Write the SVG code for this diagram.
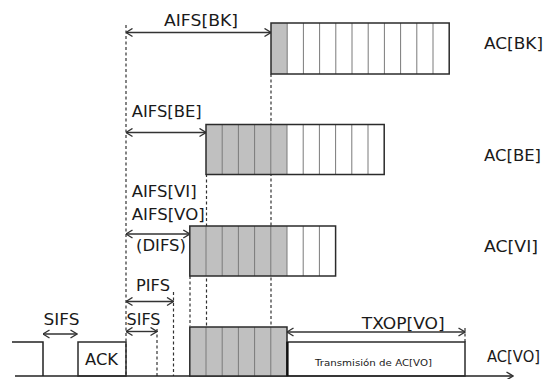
<svg xmlns="http://www.w3.org/2000/svg" width="544" height="379" viewBox="0 0 544 379">
  <defs>
    <marker id="chev" viewBox="0 0 8 10" refX="7.5" refY="5" markerWidth="8" markerHeight="10" markerUnits="userSpaceOnUse" orient="auto-start-reverse">
      <path d="M1,1 L7.5,5 L1,9" fill="none" stroke="#333" stroke-width="1.4"/>
    </marker>
    <style>
      text { font-family: "DejaVu Sans", "Liberation Sans", sans-serif; font-size: 15.5px; fill: #1a1a1a; }
      .small { font-size: 8.5px; }
      .frame { fill: none; stroke: #2b2b2b; stroke-width: 1.5; }
      .slot-busy { fill: #c0c0c0; stroke: none; }
      .slot-free { fill: #ffffff; stroke: none; }
      .sep { stroke: #7a7a7a; stroke-width: 1; fill: none; }
      .dash { stroke: #333; stroke-width: 1.2; stroke-dasharray: 3 2.5; fill: none; }
      .span { stroke: #333; stroke-width: 1.4; fill: none; marker-start: url(#chev); marker-end: url(#chev); }
      .line { stroke: #222; stroke-width: 1.5; fill: none; }
    </style>
  </defs>

  <rect width="544" height="379" fill="#ffffff"/>

  <!-- guide lines behind the slot boxes -->
  <g id="connectors">
    <path class="dash" d="M126,25 V376"/>
    <path class="dash" d="M271,74 V326"/>
    <path class="dash" d="M206.5,174 V326"/>
    <path class="dash" d="M190,276 V326"/>
    <path class="dash" d="M157,329 V376"/>
    <path class="dash" d="M173.5,292 V376"/>
    <path class="dash" d="M465,328 V342"/>

    <path class="span" d="M126,32.5 H271"/>
    <path class="span" d="M126,132.5 H206"/>
    <path class="span" d="M126,234 H189.8"/>
    <path class="span" d="M126,301.5 H173.5"/>
    <path class="span" d="M126,331.5 H157"/>
    <path class="span" d="M43,334 H77"/>
    <path class="span" d="M287,332 H465"/>

    <!-- time axis -->
    <path class="line" d="M15,376 H513" marker-end="url(#chev)"/>
  </g>

  <!-- AC[BK] backoff window -->
  <g id="ac-bk">
    <rect class="slot-free" x="271" y="23" width="178.2" height="51"/>
    <rect class="slot-busy" x="271" y="23" width="16.2" height="51"/>
    <path class="sep" d="M287.2,23V74M303.4,23V74M319.6,23V74M335.8,23V74M352,23V74M368.2,23V74M384.4,23V74M400.6,23V74M416.8,23V74M433,23V74"/>
    <rect class="frame" x="271" y="23" width="178.2" height="51"/>
    <text x="484" y="49" textLength="59" lengthAdjust="spacingAndGlyphs">AC[BK]</text>
  </g>

  <!-- AC[BE] backoff window -->
  <g id="ac-be">
    <rect class="slot-free" x="206" y="124.5" width="178.2" height="50"/>
    <rect class="slot-busy" x="206" y="124.5" width="81" height="50"/>
    <path class="sep" d="M222.2,124.5V174.5M238.4,124.5V174.5M254.6,124.5V174.5M270.8,124.5V174.5M287,124.5V174.5M303.2,124.5V174.5M319.4,124.5V174.5M335.6,124.5V174.5M351.8,124.5V174.5M368,124.5V174.5"/>
    <rect class="frame" x="206" y="124.5" width="178.2" height="50"/>
    <text x="484" y="161" textLength="57" lengthAdjust="spacingAndGlyphs">AC[BE]</text>
  </g>

  <!-- AC[VI] backoff window -->
  <g id="ac-vi">
    <rect class="slot-free" x="189.8" y="226" width="145.8" height="50"/>
    <rect class="slot-busy" x="189.8" y="226" width="97.2" height="50"/>
    <path class="sep" d="M206,226V276M222.2,226V276M238.4,226V276M254.6,226V276M270.8,226V276M287,226V276M303.2,226V276M319.4,226V276"/>
    <rect class="frame" x="189.8" y="226" width="145.8" height="50"/>
    <text x="484" y="252" textLength="54" lengthAdjust="spacingAndGlyphs">AC[VI]</text>
  </g>

  <!-- AC[VO] backoff and transmission -->
  <g id="ac-vo">
    <rect class="slot-busy" x="189.8" y="327" width="97.2" height="49"/>
    <path class="sep" d="M206,327V376M222.2,327V376M238.4,327V376M254.6,327V376M270.8,327V376"/>
    <rect class="frame" x="189.8" y="327" width="97.2" height="49"/>
    <rect class="frame" x="287" y="342" width="178" height="34"/>
    <path d="M287.5,342V376" stroke="#111" stroke-width="2.2"/>
    <text class="small" x="315" y="366" textLength="117" lengthAdjust="spacingAndGlyphs">Transmisión de AC[VO]</text>
    <text x="487" y="362" textLength="53" lengthAdjust="spacingAndGlyphs">AC[VO]</text>
  </g>

  <!-- preceding frame and ACK -->
  <g id="ack">
    <path class="line" d="M12,342 H43 V376"/>
    <rect class="frame" x="78" y="342" width="48" height="34"/>
    <text x="85" y="365" textLength="33" lengthAdjust="spacingAndGlyphs">ACK</text>
  </g>

  <!-- interval labels -->
  <g id="labels">
    <text x="164" y="26" textLength="74" lengthAdjust="spacingAndGlyphs">AIFS[BK]</text>
    <text x="131.7" y="116.5" textLength="70" lengthAdjust="spacingAndGlyphs">AIFS[BE]</text>
    <text x="131.7" y="196.5" textLength="65" lengthAdjust="spacingAndGlyphs">AIFS[VI]</text>
    <text x="131.7" y="219.5" textLength="73" lengthAdjust="spacingAndGlyphs">AIFS[VO]</text>
    <text x="136" y="251" textLength="50" lengthAdjust="spacingAndGlyphs">(DIFS)</text>
    <text x="136" y="291" textLength="34" lengthAdjust="spacingAndGlyphs">PIFS</text>
    <text x="126.5" y="325" textLength="34" lengthAdjust="spacingAndGlyphs">SIFS</text>
    <text x="43.5" y="325" textLength="36" lengthAdjust="spacingAndGlyphs">SIFS</text>
    <text x="361.7" y="329" textLength="83" lengthAdjust="spacingAndGlyphs">TXOP[VO]</text>
  </g>
</svg>
